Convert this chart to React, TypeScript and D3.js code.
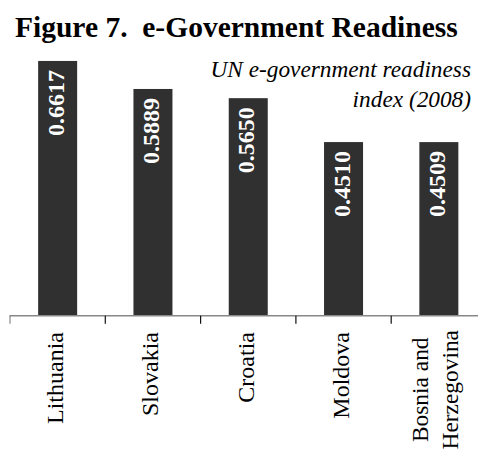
import React, { useEffect, useRef } from "react";
import * as d3 from "d3";

const categories: string[][] = [
  ["Lithuania"],
  ["Slovakia"],
  ["Croatia"],
  ["Moldova"],
  ["Bosnia and", "Herzegovina"],
];
const values: number[] = [0.6617, 0.5889, 0.565, 0.451, 0.4509];
const valueLabels: string[] = ["0.6617", "0.5889", "0.5650", "0.4510", "0.4509"];
const title = "Figure 7.  e-Government Readiness";
const subtitle: string[] = ["UN e-government readiness", "index (2008)"];

const W = 478;
const H = 452;
const SERIF = "'Liberation Serif', 'Times New Roman', Times, serif";

export default function App() {
  const ref = useRef<SVGSVGElement>(null);

  useEffect(() => {
    const svg = d3.select(ref.current);
    svg.selectAll("*").remove();

    const x0 = 10;
    const step = 95.3;
    const x = d3
      .scaleBand<number>()
      .domain(d3.range(categories.length))
      .range([x0, x0 + step * categories.length])
      .paddingInner(0)
      .paddingOuter(0);
    const baseY = 315.7;
    const y = d3.scaleLinear().domain([0, 0.7]).range([baseY, baseY - 0.7 * 385]);
    const barW = 39;

    // title
    svg
      .append("text")
      .attr("x", 15)
      .attr("y", 36.5)
      .attr("font-family", SERIF)
      .attr("font-weight", "bold")
      .attr("font-size", 29.5)
      .attr("fill", "#000")
      .attr("xml:space", "preserve")
      .style("white-space", "pre")
      .text(title);

    // subtitle
    subtitle.forEach((s, i) => {
      svg
        .append("text")
        .attr("x", 471)
        .attr("y", 77 + i * 30)
        .attr("text-anchor", "end")
        .attr("font-family", SERIF)
        .attr("font-style", "italic")
        .attr("font-size", 23.3)
        .attr("fill", "#000")
        .text(s);
    });

    // bars
    const g = svg.append("g");
    values.forEach((v, i) => {
      const cx = (x(i) as number) + x.bandwidth() / 2;
      g.append("rect")
        .attr("x", cx - barW / 2)
        .attr("y", y(v))
        .attr("width", barW)
        .attr("height", baseY - y(v))
        .attr("fill", "#303030");
      g.append("text")
        .attr("transform", `translate(${cx + 6},${y(v) + 9}) rotate(-90)`)
        .attr("text-anchor", "end")
        .attr("font-family", SERIF)
        .attr("font-weight", "bold")
        .attr("font-size", 24)
        .attr("fill", "#fff")
        .text(valueLabels[i]);
    });

    // axis line
    svg
      .append("line")
      .attr("x1", x0 - 0.5)
      .attr("x2", x0 + step * categories.length)
      .attr("y1", baseY)
      .attr("y2", baseY)
      .attr("stroke", "#888")
      .attr("stroke-width", 1.4);
    // ticks
    categories.forEach((_, i) => {
      const tx = x(i) as number;
      svg
        .append("line")
        .attr("x1", tx)
        .attr("x2", tx)
        .attr("y1", baseY)
        .attr("y2", baseY + 8)
        .attr("stroke", i === 0 ? "#888" : "#111")
        .attr("stroke-width", 1.2);
    });

    // category labels
    const lineH = 30;
    categories.forEach((lines, i) => {
      const cx = (x(i) as number) + x.bandwidth() / 2;
      const n = lines.length;
      const fs = n > 1 ? 23.4 : 24;
      const labelTop = n > 1 ? 330 : 332;
      const texts = lines.map((ln, j) => {
        const bx = cx + 5.5 + (j - (n - 1) / 2) * lineH + (n > 1 ? -1 : 0);
        return svg
          .append("text")
          .attr("font-family", SERIF)
          .attr("font-size", fs)
          .attr("fill", "#000")
          .attr("data-bx", bx)
          .text(ln);
      });
      const lens = texts.map((t) => (t.node() as SVGTextElement).getComputedTextLength());
      const maxLen = Math.max(...lens);
      const midY = labelTop + maxLen / 2;
      texts.forEach((t) => {
        const bx = +t.attr("data-bx");
        t.attr("text-anchor", "middle").attr(
          "transform",
          `translate(${bx},${midY}) rotate(-90)`
        );
      });
    });
  }, []);

  return (
    <svg
      ref={ref}
      width={W}
      height={H}
      style={{ position: "absolute", left: 0, top: 0, background: "#fff" }}
    />
  );
}
